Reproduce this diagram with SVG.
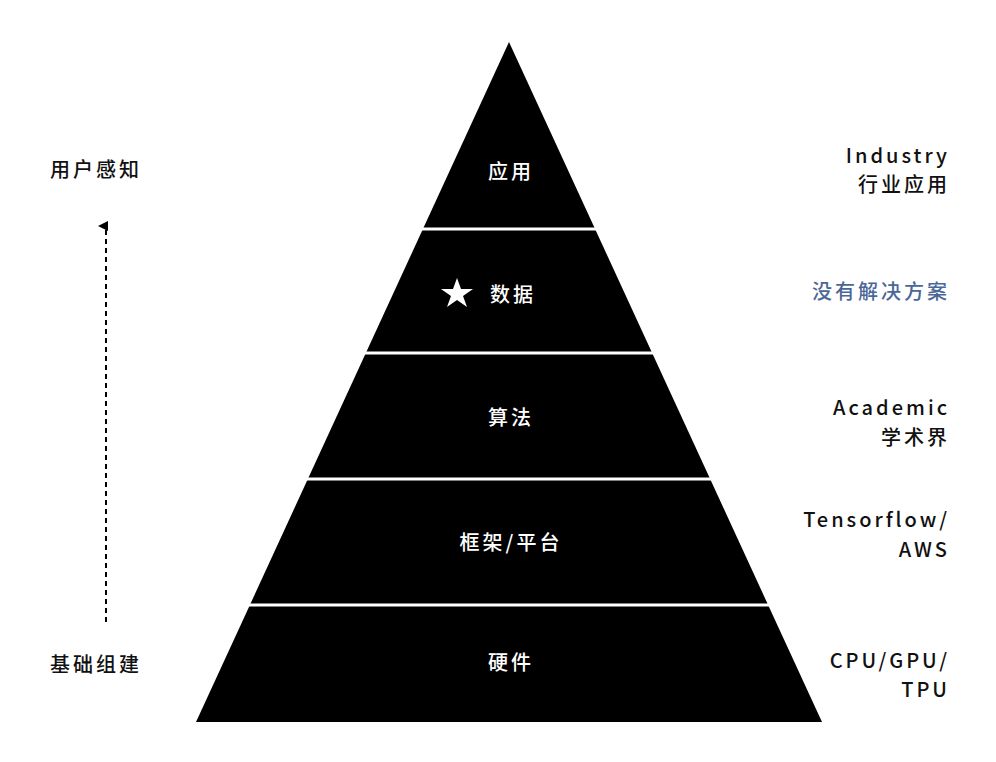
<svg xmlns="http://www.w3.org/2000/svg" width="996" height="762" viewBox="0 0 996 762">
<style>
text{font-family:"Noto Sans CJK SC","Noto Sans",sans-serif;font-size:20px;font-weight:500;letter-spacing:3px}
.w{fill:#fff;text-anchor:middle}
.r{fill:#111;text-anchor:end}
.l{fill:#111}
.sep{stroke:#fff;stroke-width:3}
</style>
<defs><marker id="ah" markerWidth="10" markerHeight="10" refX="5" refY="8" orient="auto" markerUnits="userSpaceOnUse" viewBox="0 0 10 10"><path d="M0,10 L5,0 L10,10 Z" fill="#000"/></marker></defs>
<rect width="996" height="762" fill="#fff"/>
<g id="pyramid">
<polygon points="509,42 196,722 822,722" fill="#000"/>
<line class="sep" x1="400" y1="229" x2="620" y2="229"/>
<line class="sep" x1="340" y1="353" x2="680" y2="353"/>
<line class="sep" x1="280" y1="479" x2="740" y2="479"/>
<line class="sep" x1="220" y1="605" x2="800" y2="605"/>
</g>
<g id="n1"><text class="w" x="511" y="179">应用</text></g>
<g id="n2"><polygon fill="#fff" points="457,278 461,289 473,289 463,296 467,307 457,300 447,307 451,296 441,289 453,289"/><text class="w" x="513" y="302">数据</text></g>
<g id="n3"><text class="w" x="511" y="425">算法</text></g>
<g id="n4"><text class="w" x="511" y="550">框架/平台</text></g>
<g id="n5"><text class="w" x="511" y="670">硬件</text></g>
<g id="r1"><text class="r" x="950" y="163">Industry</text><text class="r" x="950" y="192">行业应用</text></g>
<g id="r2"><text class="r" x="950" y="299" style="fill:#4a6796">没有解决方案</text></g>
<g id="r3"><text class="r" x="950" y="415">Academic</text><text class="r" x="950" y="445">学术界</text></g>
<g id="r4"><text class="r" x="950" y="527">Tensorflow/</text><text class="r" x="950" y="557">AWS</text></g>
<g id="r5"><text class="r" x="950" y="668">CPU/GPU/</text><text class="r" x="950" y="697">TPU</text></g>
<g id="l1"><text class="l" x="50" y="177">用户感知</text></g>
<g id="l2"><text class="l" x="50" y="672">基础组建</text></g>
<g id="connectors"><line x1="106" y1="622" x2="106" y2="226" stroke="#000" stroke-width="2" stroke-dasharray="5,4" marker-end="url(#ah)"/></g>
</svg>
